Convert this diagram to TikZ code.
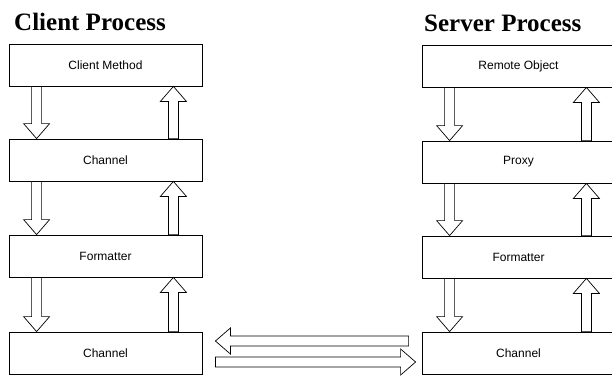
\documentclass[tikz,border=0pt]{standalone}
\usepackage{fontspec}
\setmainfont{Liberation Serif}
\setsansfont{Liberation Sans}
\usetikzlibrary{calc}
\begin{document}
\begin{tikzpicture}[x=1pt, y=-1pt,
    layer/.style={draw, line width=0.8pt, minimum width=193pt, minimum height=42pt,
        inner sep=0pt, font=\sffamily\fontsize{12}{14}\selectfont},
    title/.style={anchor=base west, inner sep=0pt, font=\bfseries\fontsize{25}{30}\selectfont},
    hollow/.style={draw, fill=white, line width=0.7pt, line join=miter,
        to path={let \p1=(\tikztostart), \p2=(\tikztotarget), \p3=($(\p2)!15pt!(\p1)$) in
            ($(\p1)!5pt!90:(\p2)$) -- ($(\p3)!5pt!90:(\p2)$) -- ($(\p3)!13pt!90:(\p2)$)
            -- (\p2) -- ($(\p3)!13pt!-90:(\p2)$) -- ($(\p3)!5pt!-90:(\p2)$)
            -- ($(\p1)!5pt!-90:(\p2)$) -- cycle}}]
    \useasboundingbox (0,0) rectangle (612,375);
    \clip (0,0) rectangle (612,375);

    \node[title] (client) at (14,30) {Client Process};
    \node[title] (server) at (424,31) {Server Process};

    % client side
    \node[layer] (cm) at (105.5,65) {Client Method};
    \node[layer] (cch1) at (105.5,160) {Channel};
    \node[layer] (cfmt) at (105.5,256) {Formatter};
    \node[layer] (cch2) at (105.5,353) {Channel};

    % server side
    \node[layer] (ro) at (518.5,66) {Remote Object};
    \node[layer] (px) at (518.5,162) {Proxy};
    \node[layer] (sfmt) at (518.5,257) {Formatter};
    \node[layer] (sch) at (518.5,353) {Channel};

    \foreach \a/\b in {cm/cch1, cch1/cfmt, cfmt/cch2, ro/px, px/sfmt, sfmt/sch} {
        \draw[hollow] ($(\a.south west)+(28,0)$) to ($(\b.north west)+(28,0)$);
        \draw[hollow] ($(\b.north east)+(-29,0)$) to ($(\a.south east)+(-29,0)$);
    }

    \draw[hollow] ($(sch.west)+(-13,-12)$) to ($(cch2.east)+(13,-12)$);
    \draw[hollow] ($(cch2.east)+(13,9)$) to ($(sch.west)+(-6,9)$);
\end{tikzpicture}
\end{document}
